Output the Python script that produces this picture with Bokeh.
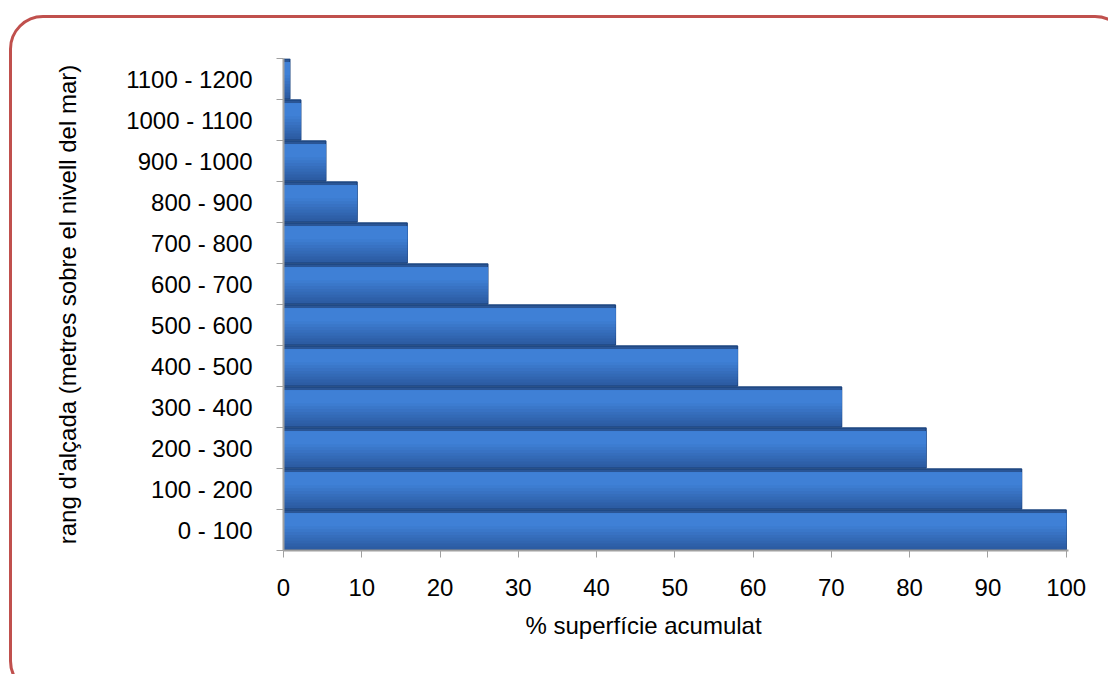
from bokeh.plotting import figure
from bokeh.models import Range1d, FixedTicker, Title, InlineStyleSheet
from bokeh.embed import file_html
from bokeh.resources import INLINE

# Altitude bands (metres above sea level), bottom to top
altitude_ranges = ["0 - 100", "100 - 200", "200 - 300", "300 - 400", "400 - 500",
                   "500 - 600", "600 - 700", "700 - 800", "800 - 900", "900 - 1000",
                   "1000 - 1100", "1100 - 1200"]
# Cumulative surface (%) at or above each band
cumulative_pct = [100, 94.3, 82.1, 71.3, 58.0, 42.4, 26.1, 15.8, 9.4, 5.4, 2.2, 0.8]
x_ticks = [0, 10, 20, 30, 40, 50, 60, 70, 80, 90, 100]

centers = [i + 0.5 for i in range(len(altitude_ranges))]

FONT = "Liberation Sans"
W, H = 1108, 674
p = figure(width=W, height=H, output_backend="svg", toolbar_location=None,
           x_range=Range1d(0, 100.3), y_range=Range1d(0, len(altitude_ranges)),
           min_border_left=283, min_border_right=40, min_border_top=58,
           min_border_bottom=124)
p.outline_line_color = None
p.xgrid.grid_line_color = None
p.ygrid.grid_line_color = None
p.background_fill_color = "white"
p.border_fill_color = "white"


def mix(c1, c2, t):
    a = [int(c1[i:i + 2], 16) for i in (1, 3, 5)]
    b = [int(c2[i:i + 2], 16) for i in (1, 3, 5)]
    return "#" + "".join(f"{round(x + (y - x) * t):02x}" for x, y in zip(a, b))


# dark body (its uncovered top strip reads as the bar's top face)
p.hbar(y=centers, left=0, right=cumulative_pct, height=0.98,
       fill_color="#2A5595", line_color="#1D4580", line_width=1.5)

# front face: layered bands, darker at the bottom, lighter towards the top
top_rel = 0.41
steps = 9
for k in range(steps):
    b_rel = -0.47 + k * 0.07
    t = k / (steps - 1)
    ys = [c + (b_rel + top_rel) / 2 for c in centers]
    p.hbar(y=ys, left=0, right=cumulative_pct, height=top_rel - b_rel,
           fill_color=mix("#2C5CA3", "#3F80D6", t), line_color=None)

# axes
ya = p.yaxis[0]
ya.ticker = FixedTicker(ticks=centers, minor_ticks=list(range(len(altitude_ranges) + 1)))
ya.major_label_overrides = {c: lab for c, lab in zip(centers, altitude_ranges)}
ya.major_tick_line_color = None
ya.major_tick_out = 0
ya.minor_tick_out = 7
ya.minor_tick_in = 0
ya.minor_tick_line_color = "#A0A0A0"
ya.axis_line_color = "#A0A0A0"
ya.axis_line_width = 2
ya.major_label_standoff = 24
ya.major_label_text_font = FONT
ya.major_label_text_font_size = "24px"
ya.major_label_text_color = "black"
ya.axis_label = "rang d'alçada (metres sobre el nivell del mar)"
ya.axis_label_text_font = FONT
ya.axis_label_text_font_size = "24px"
ya.axis_label_text_font_style = "normal"
ya.axis_label_text_color = "black"
ya.axis_label_standoff = 42

xa = p.xaxis[0]
xa.ticker = FixedTicker(ticks=x_ticks)
xa.minor_tick_line_color = None
xa.major_tick_out = 7
xa.major_tick_in = 0
xa.major_tick_line_color = "#A0A0A0"
xa.axis_line_color = "#A0A0A0"
xa.axis_line_width = 2
xa.major_label_standoff = 21
xa.major_label_text_font = FONT
xa.major_label_text_font_size = "24px"
xa.major_label_text_color = "black"

p.add_layout(Title(text="% superfície acumulat", align="left", offset=242,
                   text_font=FONT, text_font_size="24px", text_font_style="normal",
                   text_color="black", standoff=22), "below")

# rounded red frame around the whole chart
p.stylesheets = [InlineStyleSheet(css="""
:host { position: relative; overflow: hidden; }
:host::after {
  content: ''; position: absolute; left: 9px; top: 15px;
  width: 1120px; height: 680px; box-sizing: border-box;
  border: 3px solid #C0504D; border-radius: 34px; pointer-events: none;
}
""")]

open("out.html", "w").write(file_html(p, INLINE))
